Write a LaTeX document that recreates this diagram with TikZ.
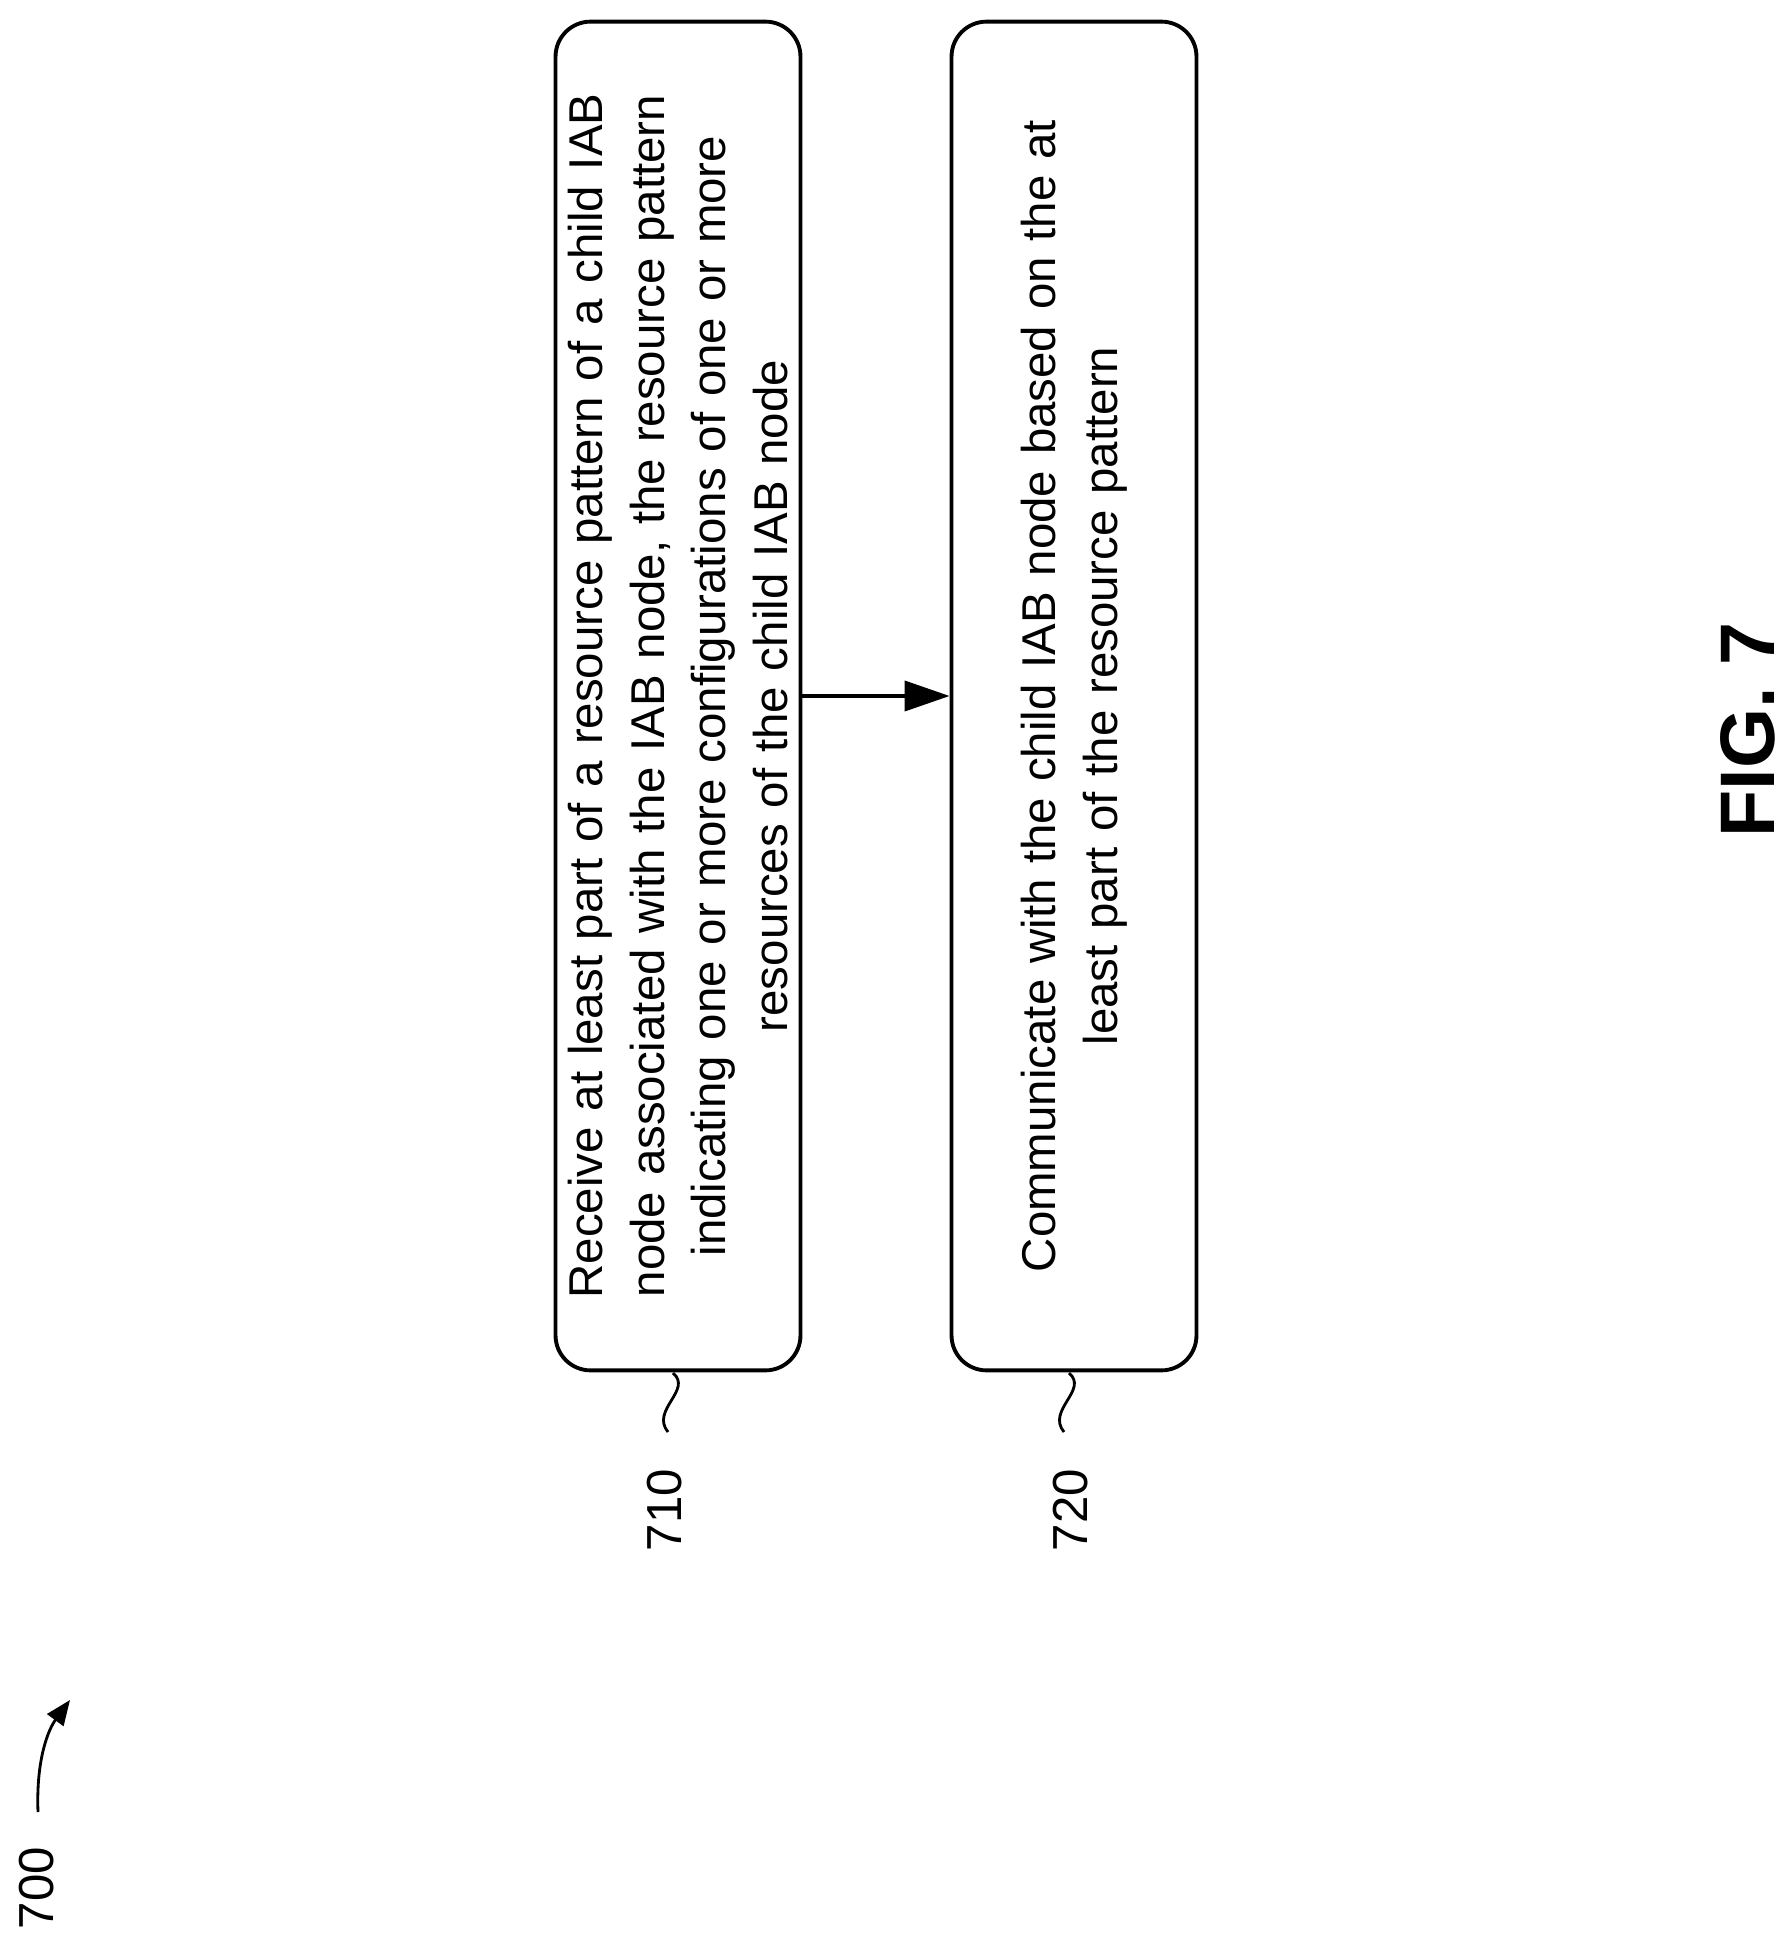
\documentclass[tikz,border=0pt]{standalone}
\usepackage{fontspec}
\setmainfont{Liberation Sans}
\usetikzlibrary{arrows.meta}
\tikzset{
  stepbox/.style={draw, line width=2.2pt, rounded corners=0.7cm, rotate=90,
    minimum width=26.98cm, minimum height=4.9cm, text width=26.2cm,
    align=center, font=\fontsize{27}{35}\selectfont, inner sep=0pt},
  reflabel/.style={rotate=90, font=\fontsize{28}{34}\selectfont},
  squig/.style={line width=1.6pt}
}
\begin{document}
\begin{tikzpicture}[x=0.02cm, y=-0.02cm]
\useasboundingbox (0,0) rectangle (1790,1939);
% process steps
\node[stepbox] (s710) at (678,696) {Receive at least part of a resource pattern of a child IAB\\ node associated with the IAB node, the resource pattern\\ indicating one or more configurations of one or more\\ resources of the child IAB node};
\node[stepbox] (s720) at (1074,696) {Communicate with the child IAB node based on the at\\ least part of the resource pattern};
\draw[line width=2.2pt, -{Triangle[length=0.9cm, width=0.6cm]}] (s710.south) -- (s720.north);

% reference numerals
\node[reflabel] (l710) at (665,1510) {710};
\node[reflabel] (l720) at (1071,1510) {720};
\draw[squig] (673,1373) .. controls (693,1390) and (650,1410) .. (668,1432);
\draw[squig] (1069,1373) .. controls (1089,1390) and (1046,1410) .. (1064,1432);

% figure number
\node[reflabel] (l700) at (37,1888) {700};
\draw[squig, -{Triangle[length=0.5cm, width=0.4cm]}] (38,1812) .. controls (36,1760) and (48,1730) .. (70,1700);
\node[rotate=90, font=\fontsize{44}{50}\selectfont\bfseries] (fig) at (1748,730) {FIG. 7};
\end{tikzpicture}
\end{document}
